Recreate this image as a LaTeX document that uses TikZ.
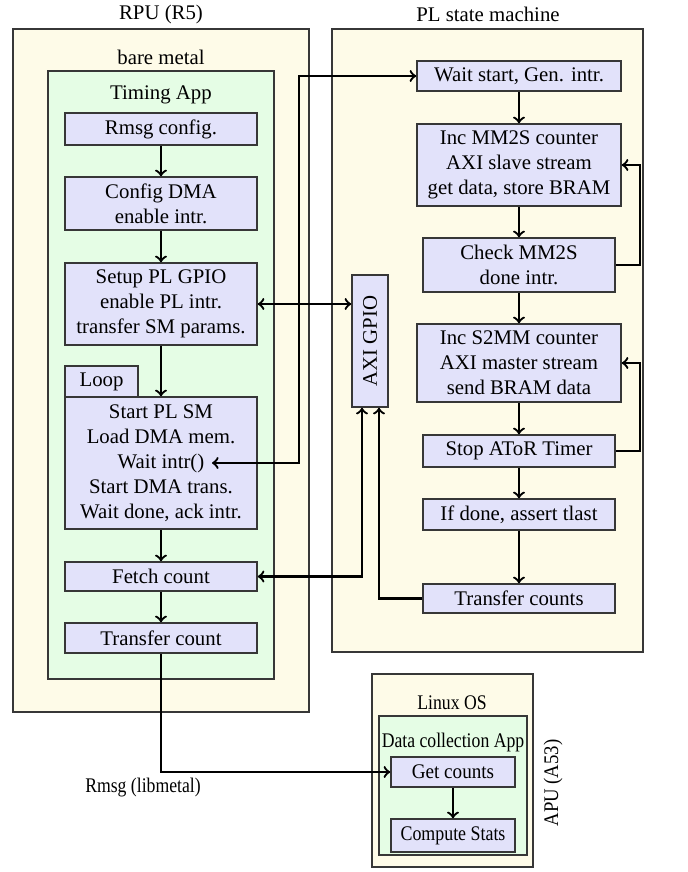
\documentclass[tikz,border=0pt]{standalone}
\usepackage{fontspec}
\setmainfont{Liberation Serif}
\usetikzlibrary{calc}
\definecolor{outerfill}{RGB}{254,251,232}
\definecolor{greenfill}{RGB}{229,253,229}
\definecolor{bluefill}{RGB}{226,226,250}
\definecolor{edgecol}{RGB}{55,55,55}
\newcommand\narrow[1]{\scalebox{0.85}[1]{#1}}
\begin{document}
\begin{tikzpicture}[x=0.4808pt,y=-0.4808pt,
  sz/.style 2 args={minimum width=#1*0.4808pt, minimum height=#2*0.4808pt},
  stepbox/.style={draw=edgecol, line width=0.75pt, fill=bluefill, inner sep=0pt, align=center, font=\fontsize{10}{12}\selectfont},
  outerbox/.style={draw=edgecol, line width=0.75pt, fill=outerfill},
  appbox/.style={draw=edgecol, line width=0.75pt, fill=greenfill},
  lbl/.style={inner sep=0pt, font=\fontsize{10}{12}\selectfont},
  conn/.style={line width=1.1pt, ->},
  bconn/.style={line width=1.1pt, <->}]
\useasboundingbox (0,0) rectangle (688,872);
% containers
\draw[outerbox] (13,29) rectangle (309,712);
\draw[appbox] (48,71) rectangle (274,679);
\draw[outerbox] (332,29) rectangle (643,652);
\draw[outerbox] (372,674) rectangle (533,867);
\draw[appbox] (379,716) rectangle (527,855);
% labels
\node[lbl] (lrpu) at (161,14) {RPU (R5)};
\node[lbl] (lbare) at (161,57) {bare metal};
\node[lbl] (ltiming) at (161,95) {Timing App};
\node[lbl] (lpl) at (488,14) {PL state machine};
\node[lbl] (llinux) at (452,703) {\narrow{Linux OS}};
\node[lbl] (ldata) at (453,742) {\narrow{Data collection App}};
\node[lbl, rotate=90] (lapu) at (553,783) {\scalebox{0.9}[1]{APU (A53)}};
\node[lbl] (lrmsg) at (143,788) {\narrow{Rmsg (libmetal)}};
% RPU steps
\node[stepbox, sz={192}{32}] (rmsg) at (161,129) {Rmsg config.};
\node[stepbox, sz={192}{53}] (cdma) at (161,203.5) {Config DMA\\enable intr.};
\node[stepbox, sz={192}{82}] (setup) at (161,304) {Setup PL GPIO\\enable PL intr.\\transfer SM params.};
\node[stepbox, sz={73}{31}] (loop) at (101.5,381.5) {Loop};
\node[stepbox, sz={192}{132}] (start) at (161,463) {Start PL SM\\Load DMA mem.\\Wait intr()\\Start DMA trans.\\Wait done, ack intr.};
\node[stepbox, sz={192}{29}] (fetch) at (161,576.5) {Fetch count};
\node[stepbox, sz={192}{30}] (tcount) at (161,638) {Transfer count};
\coordinate (wi) at (212,463);
% AXI GPIO
\node[stepbox, sz={132}{36}, rotate=90] (axi) at (370,341) {AXI GPIO};
% PL steps
\node[stepbox, sz={204}{30}] (wait) at (519,76) {Wait start, Gen. intr.};
\node[stepbox, sz={204}{82}] (incmm) at (519,165) {Inc MM2S counter\\AXI slave stream\\get data, store BRAM};
\node[stepbox, sz={192}{54}] (check) at (519,265) {Check MM2S\\done intr.};
\node[stepbox, sz={204}{78}] (incs2) at (519,363) {Inc S2MM counter\\AXI master stream\\send BRAM data};
\node[stepbox, sz={192}{32}] (stop) at (519,451) {Stop AToR Timer};
\node[stepbox, sz={192}{31}] (ifdone) at (519,514.5) {If done, assert tlast};
\node[stepbox, sz={192}{29}] (tcounts) at (519,598.5) {Transfer counts};
% APU steps
\node[stepbox, sz={124}{30}] (getc) at (453,772) {\scalebox{0.92}[1]{Get counts}};
\node[stepbox, sz={124}{33}] (comp) at (453,835.5) {\scalebox{0.86}[1]{Compute Stats}};
% connectors RPU
\draw[conn] (rmsg) -- (cdma);
\draw[conn] (cdma) -- (setup);
\draw[conn] (setup) -- (start);
\draw[conn] (start) -- (fetch);
\draw[conn] (fetch) -- (tcount);
% connectors PL
\draw[conn] (wait) -- (incmm);
\draw[conn] (incmm) -- (check);
\draw[conn] (check) -- (incs2);
\draw[conn] (incs2) -- (stop);
\draw[conn] (stop) -- (ifdone);
\draw[conn] (ifdone) -- (tcounts);
\draw[conn] (check.east) -- ++(24,0) |- (incmm.east);
\draw[conn] (stop.east) -- ++(24,0) |- (incs2.east);
% cross connectors
\draw[bconn] (wi) -- (299,463) |- (wait.west);
\draw[bconn] (setup.east) -- (setup.east -| axi.north);
\draw[bconn] (fetch.east) -| ($(axi.west)+(-8,0)$);
\draw[conn] (tcounts.west) -| ($(axi.west)+(9,0)$);
\draw[conn] (tcount.south) |- (getc.west);
% APU
\draw[conn] (getc) -- (comp);
\end{tikzpicture}
\end{document}
